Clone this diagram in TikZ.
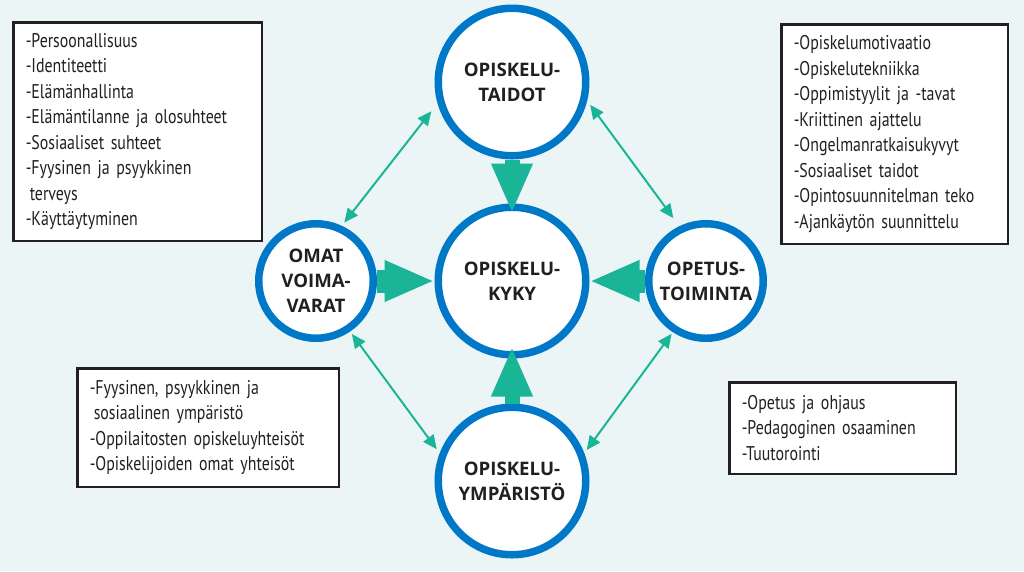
\documentclass[tikz,border=0pt]{standalone}
\usepackage{fontspec}
\setmainfont{PT Sans}
\newfontfamily\boxfont[FakeStretch=0.8]{PT Sans}
\newfontfamily\circfont{Open Sans}
\usepackage{tikz}
\usetikzlibrary{positioning, arrows.meta}

\definecolor{bgcol}{RGB}{236,245,246}
\definecolor{ringblue}{RGB}{0,120,200}
\definecolor{flowcol}{RGB}{26,181,150}
\definecolor{textcol}{RGB}{35,31,32}

\begin{document}
\begin{tikzpicture}[
    on grid,
    big/.style={circle, draw=ringblue, line width=0.15cm, fill=white, minimum size=2.95cm, inner sep=0pt, align=center, text=textcol, font=\circfont\bfseries\fontsize{10.6}{14.2}\selectfont},
    small/.style={big, minimum size=2.29cm},
    box/.style={draw=textcol, line width=0.05cm, fill=white, anchor=north west, align=left, inner xsep=0.25cm, text=textcol, font=\boxfont\fontsize{11.3}{14.5}\selectfont},
    link/.style={draw=flowcol, line width=0.04cm, {Triangle[length=0.28cm 0 0, width=0.25cm 0 0]}-{Triangle[length=0.28cm 0 0, width=0.25cm 0 0]}},
    flow/.style={draw=flowcol, -{Triangle[length=1cm 0 0, width=0.76cm 0 0]}},
    ]
    % Canvas
    \useasboundingbox (0,0) rectangle (20.48,-11.42);
    \fill[bgcol] (0,0) rectangle (20.48,-11.42);

    % Circles
    \node[big] (kyky) at (10.24,-5.62) {OPISKELU-\\KYKY};
    \node[big, above=3.98cm of kyky] (taidot) {OPISKELU-\\TAIDOT};
    \node[big, below=4cm of kyky] (ymparisto) {OPISKELU-\\YMPÄRISTÖ};
    \node[small, left=3.92cm of kyky] (voimavarat) {OMAT\\VOIMA-\\VARAT};
    \node[small, right=3.88cm of kyky] (toiminta) {OPETUS-\\TOIMINTA};

    % Boxes
    \node[box, text width=4.47cm, minimum height=4.37cm] (voimavarat_box) at (0.24,-0.42) {-Persoonallisuus\\-Identiteetti\\-Elämänhallinta\\-Elämäntilanne ja olosuhteet\\-Sosiaaliset suhteet\\-Fyysinen ja psyykkinen\\\hspace*{0.08cm}terveys\\-Käyttäytyminen};
    \node[box, text width=4.03cm, minimum height=4.39cm] (taidot_box) at (15.6,-0.46) {-Opiskelumotivaatio\\-Opiskelutekniikka\\-Oppimistyylit ja -tavat\\-Kriittinen ajattelu\\-Ongelmanratkaisukyvyt\\-Sosiaaliset taidot\\-Opintosuunnitelman teko\\-Ajankäytön suunnittelu};
    \node[box, text width=4.73cm, minimum height=2.37cm] (ymparisto_box) at (1.52,-7.34) {-Fyysinen, psyykkinen ja\\\hspace*{0.08cm}sosiaalinen ympäristö\\-Oppilaitosten opiskeluyhteisöt\\-Opiskelijoiden omat yhteisöt};
    \node[box, text width=4.03cm, minimum height=1.83cm] (toiminta_box) at (14.56,-7.62) {-Opetus ja ohjaus\\-Pedagoginen osaaminen\\-Tuutorointi};

    % Thin links between outer circles
    \draw[link, shorten <=0.2cm, shorten >=0.08cm] (taidot.196) -- (voimavarat.65);
    \draw[link, shorten <=0.1cm, shorten >=0.2cm] (taidot.346) -- (toiminta.116);
    \draw[link, shorten <=0.06cm, shorten >=0.1cm] (voimavarat.304) -- (ymparisto.159);
    \draw[link, shorten <=0.04cm, shorten >=0.08cm] (toiminta.237) -- (ymparisto.21);

    % Fat arrows into the centre
    \draw[flow, line width=0.3cm, shorten >=-0.2cm] (taidot) -- (kyky);
    \draw[flow, line width=0.3cm, shorten >=-0.24cm] (ymparisto) -- (kyky);
    \draw[flow, line width=0.46cm] (voimavarat) -- (kyky);
    \draw[flow, line width=0.46cm] (toiminta) -- (kyky);
\end{tikzpicture}
\end{document}
